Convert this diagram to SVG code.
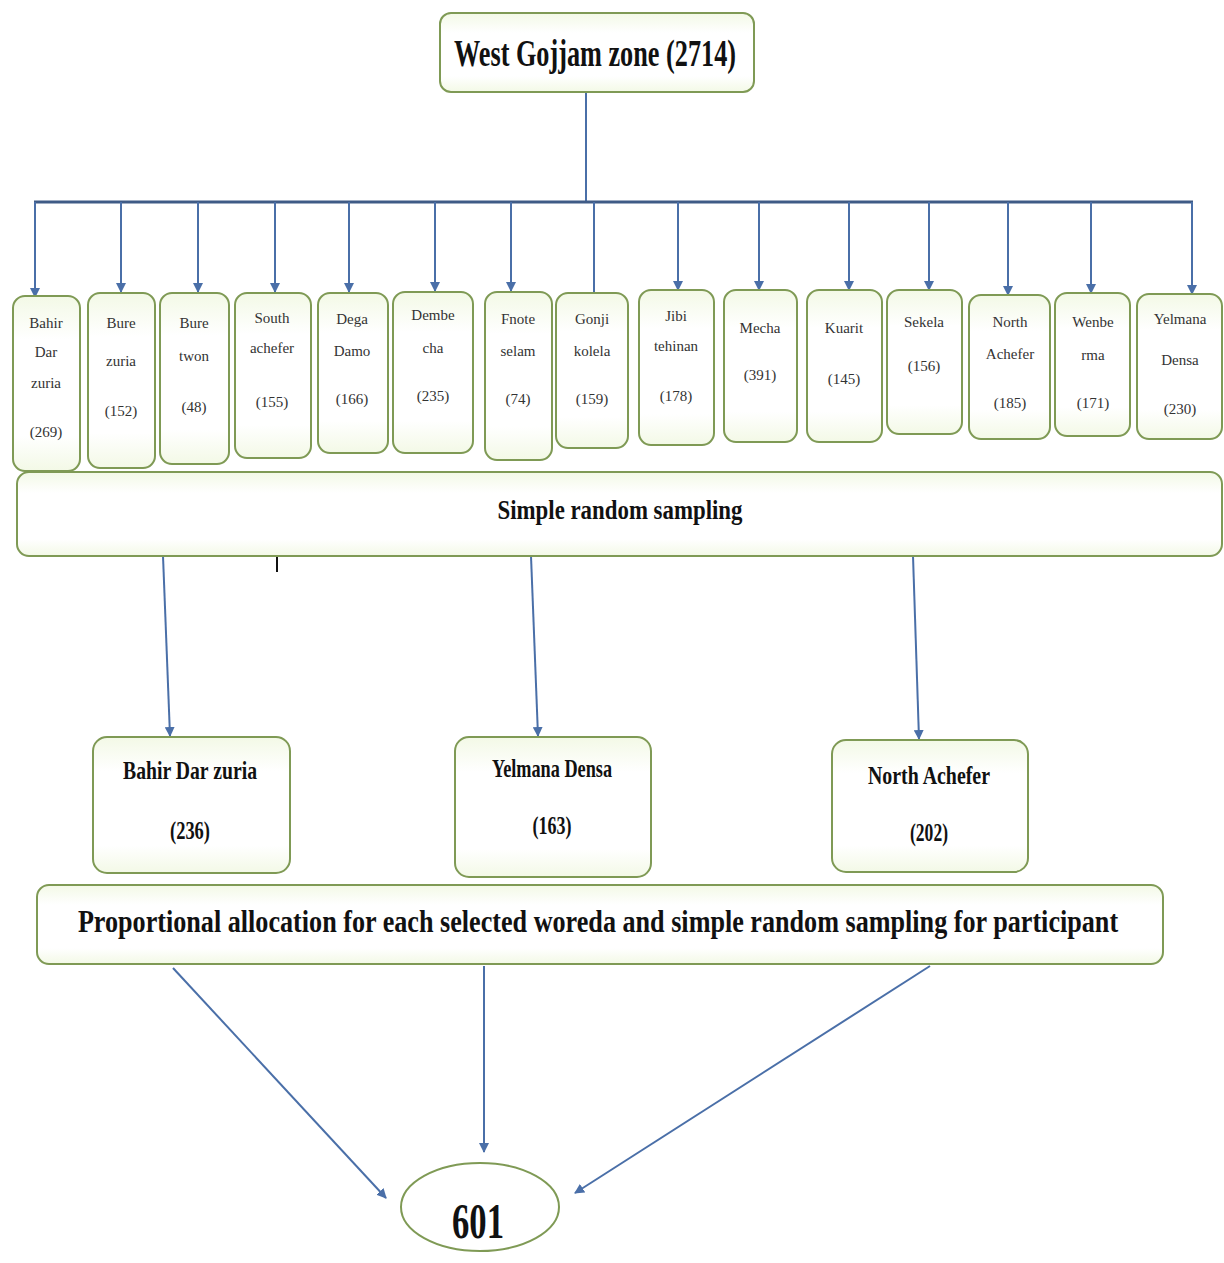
<svg xmlns="http://www.w3.org/2000/svg" width="1224" height="1263" viewBox="0 0 1224 1263">
<defs>
<marker id="ah" viewBox="0 0 10 10" refX="9" refY="5" markerWidth="10" markerHeight="10" markerUnits="userSpaceOnUse" orient="auto">
<path d="M0,0 L10,5 L0,10 z" fill="#4a6fa8"/>
</marker>
<linearGradient id="gf" x1="0" y1="0" x2="0" y2="1">
<stop offset="0" stop-color="#f3f9e6"/>
<stop offset="0.25" stop-color="#ffffff"/>
<stop offset="0.8" stop-color="#ffffff"/>
<stop offset="1" stop-color="#f3f9e6"/>
</linearGradient>
</defs>
<style>
.box{fill:url(#gf);stroke:#7f9a55;stroke-width:2}
.ln{stroke:#4a6fa8;stroke-width:2;fill:none}
.hl{stroke:#3f5b86;stroke-width:3;fill:none}
.sm{font-family:"Liberation Serif","Times New Roman",serif;font-size:15px;fill:#333;text-anchor:middle}
.bd{font-family:"Liberation Serif","Times New Roman",serif;font-weight:bold;fill:#111;text-anchor:middle}
</style>
<rect width="1224" height="1263" fill="#ffffff"/>

<g id="connectors">
<line class="ln" x1="586" y1="92" x2="586" y2="202"/>
<line class="hl" x1="34" y1="202" x2="1193" y2="202"/>
<line class="ln" x1="35" y1="202" x2="35" y2="297" marker-end="url(#ah)"/>
<line class="ln" x1="121" y1="202" x2="121" y2="292" marker-end="url(#ah)"/>
<line class="ln" x1="198" y1="202" x2="198" y2="292" marker-end="url(#ah)"/>
<line class="ln" x1="275" y1="202" x2="275" y2="292" marker-end="url(#ah)"/>
<line class="ln" x1="349" y1="202" x2="349" y2="292" marker-end="url(#ah)"/>
<line class="ln" x1="435" y1="202" x2="435" y2="291" marker-end="url(#ah)"/>
<line class="ln" x1="511" y1="202" x2="511" y2="291" marker-end="url(#ah)"/>
<line class="ln" x1="594" y1="202" x2="594" y2="293"/>
<line class="ln" x1="678" y1="202" x2="678" y2="290" marker-end="url(#ah)"/>
<line class="ln" x1="759" y1="202" x2="759" y2="290" marker-end="url(#ah)"/>
<line class="ln" x1="849" y1="202" x2="849" y2="290" marker-end="url(#ah)"/>
<line class="ln" x1="929" y1="202" x2="929" y2="290" marker-end="url(#ah)"/>
<line class="ln" x1="1008" y1="202" x2="1008" y2="295" marker-end="url(#ah)"/>
<line class="ln" x1="1091" y1="202" x2="1091" y2="293" marker-end="url(#ah)"/>
<line class="ln" x1="1192" y1="202" x2="1192" y2="294" marker-end="url(#ah)"/>
<line class="ln" x1="163" y1="556" x2="170" y2="736" marker-end="url(#ah)"/>
<line class="ln" x1="531" y1="556" x2="538" y2="736" marker-end="url(#ah)"/>
<line class="ln" x1="913" y1="556" x2="919" y2="739" marker-end="url(#ah)"/>
<line class="ln" x1="173" y1="968" x2="386" y2="1198" marker-end="url(#ah)"/>
<line class="ln" x1="484" y1="966" x2="484" y2="1152" marker-end="url(#ah)"/>
<line class="ln" x1="930" y1="966" x2="575" y2="1193" marker-end="url(#ah)"/>
<line x1="277" y1="539" x2="277" y2="572" stroke="#111" stroke-width="2"/>
</g>

<g id="west-gojjam">
<rect class="box" x="440" y="13" width="314" height="79" rx="11"/>
<text class="bd" x="595" y="66" font-size="38" textLength="282" lengthAdjust="spacingAndGlyphs">West Gojjam zone (2714)</text>
</g>

<g id="w1"><rect class="box" x="13" y="296" width="67" height="175" rx="12"/>
<text class="sm" x="46" y="328">Bahir</text><text class="sm" x="46" y="357">Dar</text><text class="sm" x="46" y="388">zuria</text><text class="sm" x="46" y="437">(269)</text></g>
<g id="w2"><rect class="box" x="88" y="293" width="67" height="175" rx="12"/>
<text class="sm" x="121" y="328">Bure</text><text class="sm" x="121" y="366">zuria</text><text class="sm" x="121" y="416">(152)</text></g>
<g id="w3"><rect class="box" x="160" y="293" width="69" height="171" rx="12"/>
<text class="sm" x="194" y="328">Bure</text><text class="sm" x="194" y="361">twon</text><text class="sm" x="194" y="412">(48)</text></g>
<g id="w4"><rect class="box" x="235" y="293" width="76" height="165" rx="12"/>
<text class="sm" x="272" y="323">South</text><text class="sm" x="272" y="353">achefer</text><text class="sm" x="272" y="407">(155)</text></g>
<g id="w5"><rect class="box" x="318" y="293" width="70" height="160" rx="12"/>
<text class="sm" x="352" y="324">Dega</text><text class="sm" x="352" y="356">Damo</text><text class="sm" x="352" y="404">(166)</text></g>
<g id="w6"><rect class="box" x="393" y="292" width="80" height="161" rx="12"/>
<text class="sm" x="433" y="320">Dembe</text><text class="sm" x="433" y="353">cha</text><text class="sm" x="433" y="401">(235)</text></g>
<g id="w7"><rect class="box" x="485" y="292" width="67" height="168" rx="12"/>
<text class="sm" x="518" y="324">Fnote</text><text class="sm" x="518" y="356">selam</text><text class="sm" x="518" y="404">(74)</text></g>
<g id="w8"><rect class="box" x="556" y="293" width="72" height="155" rx="12"/>
<text class="sm" x="592" y="324">Gonji</text><text class="sm" x="592" y="356">kolela</text><text class="sm" x="592" y="404">(159)</text></g>
<g id="w9"><rect class="box" x="639" y="290" width="75" height="155" rx="12"/>
<text class="sm" x="676" y="321">Jibi</text><text class="sm" x="676" y="351">tehinan</text><text class="sm" x="676" y="401">(178)</text></g>
<g id="w10"><rect class="box" x="724" y="290" width="73" height="152" rx="12"/>
<text class="sm" x="760" y="333">Mecha</text><text class="sm" x="760" y="380">(391)</text></g>
<g id="w11"><rect class="box" x="807" y="290" width="75" height="152" rx="12"/>
<text class="sm" x="844" y="333">Kuarit</text><text class="sm" x="844" y="384">(145)</text></g>
<g id="w12"><rect class="box" x="887" y="290" width="75" height="144" rx="12"/>
<text class="sm" x="924" y="327">Sekela</text><text class="sm" x="924" y="371">(156)</text></g>
<g id="w13"><rect class="box" x="969" y="295" width="81" height="144" rx="12"/>
<text class="sm" x="1010" y="327">North</text><text class="sm" x="1010" y="359">Achefer</text><text class="sm" x="1010" y="408">(185)</text></g>
<g id="w14"><rect class="box" x="1055" y="293" width="75" height="143" rx="12"/>
<text class="sm" x="1093" y="327">Wenbe</text><text class="sm" x="1093" y="360">rma</text><text class="sm" x="1093" y="408">(171)</text></g>
<g id="w15"><rect class="box" x="1137" y="294" width="85" height="145" rx="12"/>
<text class="sm" x="1180" y="324">Yelmana</text><text class="sm" x="1180" y="365">Densa</text><text class="sm" x="1180" y="414">(230)</text></g>

<g id="simple-random">
<rect class="box" x="17" y="472" width="1205" height="84" rx="12"/>
<text class="bd" x="620" y="519" font-size="27" textLength="245" lengthAdjust="spacingAndGlyphs">Simple random sampling</text>
</g>

<g id="sel-bahir">
<rect class="box" x="93" y="737" width="197" height="136" rx="14"/>
<text class="bd" x="190" y="779" font-size="26" textLength="134" lengthAdjust="spacingAndGlyphs">Bahir Dar zuria</text>
<text class="bd" x="190" y="839" font-size="26" textLength="40" lengthAdjust="spacingAndGlyphs">(236)</text>
</g>
<g id="sel-yelmana">
<rect class="box" x="455" y="737" width="196" height="140" rx="14"/>
<text class="bd" x="552" y="777" font-size="25" textLength="120" lengthAdjust="spacingAndGlyphs">Yelmana Densa</text>
<text class="bd" x="552" y="834" font-size="26" textLength="39" lengthAdjust="spacingAndGlyphs">(163)</text>
</g>
<g id="sel-north">
<rect class="box" x="832" y="740" width="196" height="132" rx="14"/>
<text class="bd" x="929" y="784" font-size="26" textLength="122" lengthAdjust="spacingAndGlyphs">North Achefer</text>
<text class="bd" x="929" y="841" font-size="26" textLength="38" lengthAdjust="spacingAndGlyphs">(202)</text>
</g>

<g id="proportional">
<rect class="box" x="37" y="885" width="1126" height="79" rx="12"/>
<text class="bd" transform="translate(598,932) scale(0.75,1)" x="0" y="0" font-size="32" textLength="1387" lengthAdjust="spacingAndGlyphs">Proportional allocation for each selected woreda and simple random sampling for participant</text>
</g>

<g id="total">
<ellipse cx="480" cy="1207" rx="79" ry="44" fill="#ffffff" stroke="#7f9a55" stroke-width="2"/>
<text class="bd" x="478" y="1238" font-size="50" textLength="52" lengthAdjust="spacingAndGlyphs">601</text>
</g>
</svg>
